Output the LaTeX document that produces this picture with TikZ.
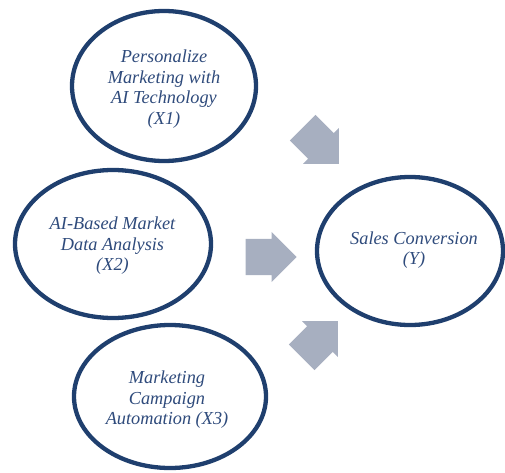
\documentclass[tikz,border=0pt]{standalone}
\usepackage{fontspec}
\setmainfont{Liberation Serif}
\usetikzlibrary{shapes.geometric,shapes.arrows}
\definecolor{ringblue}{HTML}{1F3F6E}
\definecolor{textblue}{HTML}{2F4B7C}
\definecolor{arrowgray}{HTML}{A7AFC0}
\begin{document}
\begin{tikzpicture}[x=1pt,y=1pt,
  factor/.style={ellipse,draw=ringblue,line width=4.3pt,fill=white,inner sep=0pt},
  label/.style={align=center,text=textblue,font=\fontsize{18.3}{20.5}\selectfont\itshape},
  blockarrow/.style={single arrow,fill=arrowgray,draw=none,minimum height=51pt,
    inner xsep=0pt,inner ysep=18pt,single arrow head extend=7pt,
    single arrow tip angle=90,anchor=tip}]
\useasboundingbox (0,0) rectangle (505,472);
% outcome and the three factors
\node[factor,minimum width=184pt,minimum height=150pt] (x1) at (164,386) {};
\node[factor,minimum width=196pt,minimum height=148pt] (x2) at (113,228) {};
\node[factor,minimum width=192pt,minimum height=143pt] (x3) at (170,75.5) {};
\node[factor,minimum width=186pt,minimum height=148pt] (y) at (410,221) {};
\node[label] (tx1) at (164,383) {Personalize\\Marketing with\\AI Technology\\(X1)};
\node[label] (tx2) at (112.5,226) {AI-Based Market\\Data Analysis\\(X2)};
\node[label] (tx3) at (167,72) {Marketing\\Campaign\\Automation (X3)};
\node[label] (ty) at (414,222) {Sales Conversion\\(Y)};
% influence arrows, placed by their tips
\node[blockarrow,rotate=-45] (a1) at (339,308) {};
\node[blockarrow] (a2) at (297,215) {};
\node[blockarrow,rotate=45] (a3) at (338,151) {};
\end{tikzpicture}
\end{document}
